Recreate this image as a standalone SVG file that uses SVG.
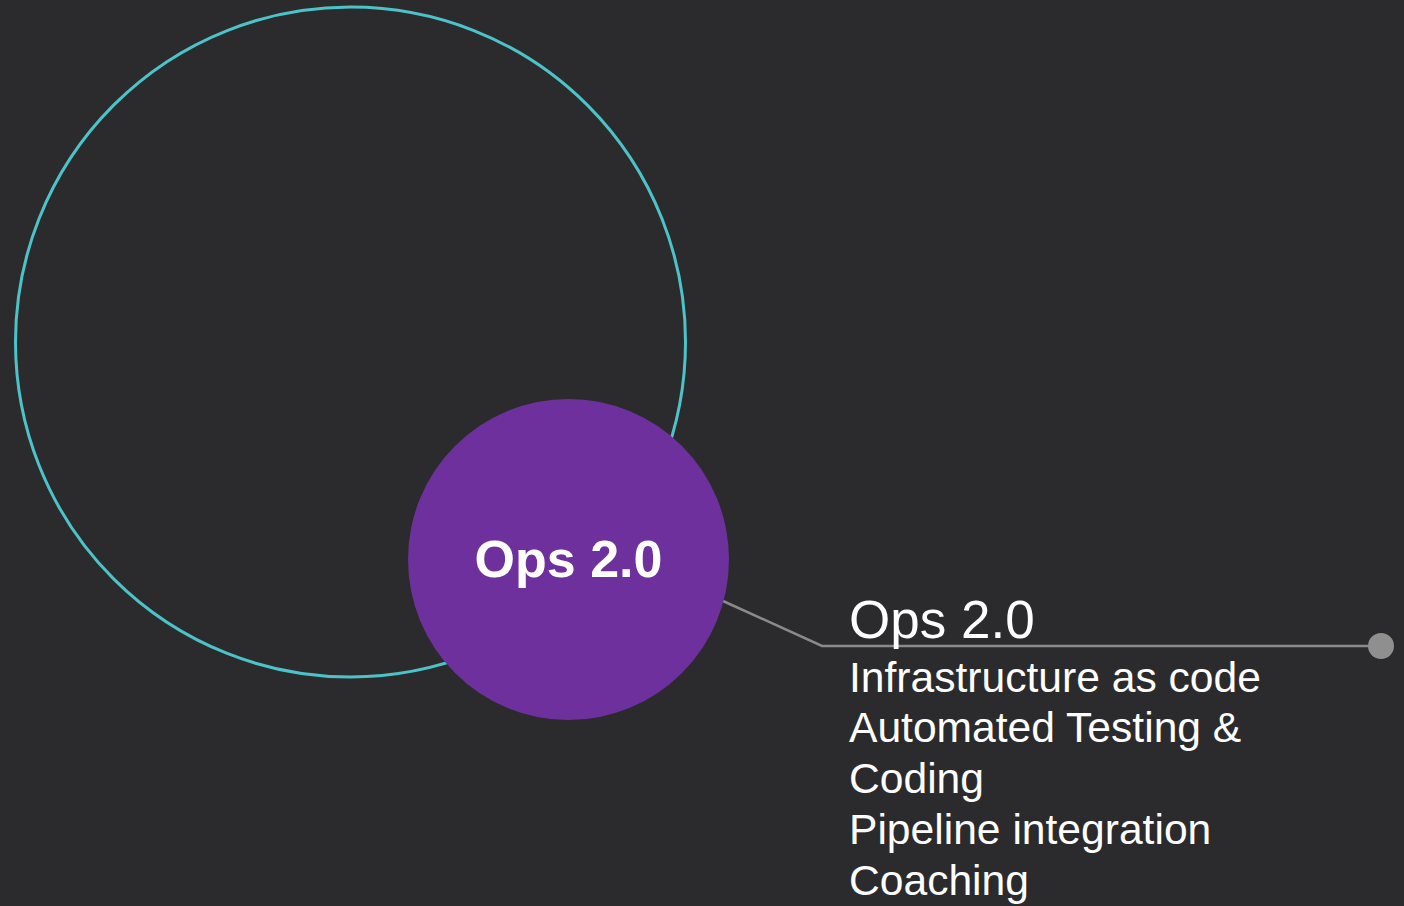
<svg xmlns="http://www.w3.org/2000/svg" width="1404" height="906" viewBox="0 0 1404 906">
<style>
.bg{fill:#2b2b2d}
.ring{fill:none;stroke:#4cc3c9;stroke-width:3}
.hub{fill:#6e309d}
.conn{fill:none;stroke:#8a8a8a;stroke-width:2.5}
.dot{fill:#8f8f8f}
text{font-family:"Liberation Sans",Arial,sans-serif;fill:#ffffff}
.hubt{font-size:52px;font-weight:bold}
.title{font-size:53px}
.body{font-size:42.6px}
</style>
<rect class="bg" x="0" y="0" width="1404" height="906"/>
<g id="outer-circle">
<circle class="ring" cx="350.5" cy="342" r="335"/>
</g>
<g id="connectors">
<polyline class="conn" points="723,601 822,646 1381,646"/>
<circle class="dot" cx="1381" cy="646" r="13"/>
</g>
<g id="ops-node">
<circle class="hub" cx="568.5" cy="559.5" r="160.5"/>
<text class="hubt" x="568.5" y="577" text-anchor="middle">Ops 2.0</text>
</g>
<g id="ops-label">
<text class="title" x="849" y="638">Ops 2.0</text>
<text class="body" x="849" y="692">Infrastructure as code</text>
<text class="body" x="849" y="742">Automated Testing &amp;</text>
<text class="body" x="849" y="793">Coding</text>
<text class="body" x="849" y="844">Pipeline integration</text>
<text class="body" x="849" y="895">Coaching</text>
</g>
</svg>
